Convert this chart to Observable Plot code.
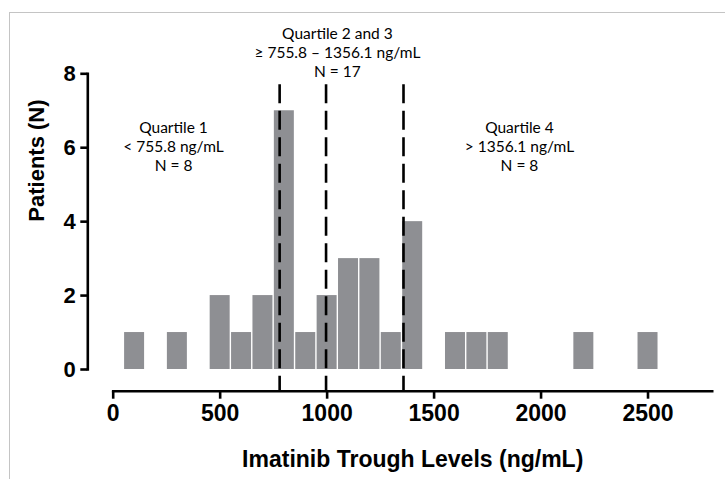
<!DOCTYPE html>
<html><head><meta charset="utf-8">
<script src="https://cdn.jsdelivr.net/npm/d3@7"></script>
<script src="https://cdn.jsdelivr.net/npm/@observablehq/plot@0.6"></script>
<style>
body{margin:0;background:#fff;}
#wrap{position:relative;width:725px;height:479px;overflow:hidden;background:#fff;}
#border{position:absolute;left:9px;top:12px;width:800px;height:600px;border-left:1.5px solid #c4c4c4;border-top:1.5px solid #c4c4c4;}
#chart{position:absolute;left:0;top:0;}
</style></head><body>
<div id="wrap"><div id="border"></div><div id="chart"></div></div>
<script>
// Histogram bins (ng/mL) and patient counts
const binStart = [50,250,450,550,650,750,850,950,1050,1150,1250,1350,1550,1650,1750,2150,2450];
const binEnd   = [150,350,550,650,750,850,950,1050,1150,1250,1350,1450,1650,1750,1850,2250,2550];
const counts   = [1,1,2,1,2,7,1,2,3,3,1,4,1,1,1,1,1];
// Dashed quartile / median lines (ng/mL, as drawn)
const cutoffs = [778, 995, 1357];
const xTicks = [0,500,1000,1500,2000,2500];
const yTicks = [0,2,4,6,8];
const xDomain = [0, 2800];
const yDomain = [0, 8];
const xTitle = "Imatinib Trough Levels (ng/mL)";
const yTitle = "Patients (N)";
const groupLabels = ["Quartile 1\n< 755.8 ng/mL\nN = 8", "Quartile 2 and 3\n≥ 755.8 – 1356.1 ng/mL\nN = 17", "Quartile 4\n> 1356.1 ng/mL\nN = 8"];
const groupX = [282, 1048, 1899];
const groupY = [6.04, 8.59, 6.04];

const bars = binStart.map((s,i)=>({x1:s, x2:binEnd[i], count:counts[i]}));
const ann = groupLabels.map((t,i)=>({text:t, x:groupX[i], y:groupY[i]}));

const sw = 2.6;
const plot = Plot.plot({
  width:725, height:479,
  marginLeft:112.7, marginRight:13.3, marginTop:73.3, marginBottom:110,
  x:{domain:xDomain}, y:{domain:yDomain},
  style:{background:"transparent", fontFamily:"'Liberation Sans', Arial, sans-serif", color:"#000"},
  marks:[
    Plot.rectY(bars, {x1:"x1", x2:"x2", y1:0, y2:"count", fill:"#8e8f93", insetLeft:0.7, insetRight:0.7}),
    Plot.ruleX(cutoffs, {stroke:"#000", strokeWidth:sw, strokeDasharray:"19,7.5", insetTop:11, insetBottom:-21.7}),
    Plot.frame({anchor:"left", dx:-25.4, strokeWidth:sw}),
    Plot.axisY(yTicks, {anchor:"left", dx:-25.4, tickSize:7, tickPadding:5, tickFormat:"d", fontSize:22, fontWeight:"bold", strokeWidth:sw, label:null}),
    Plot.frame({anchor:"bottom", dy:21.7, strokeWidth:sw}),
    Plot.axisX(xTicks, {anchor:"bottom", dy:21.7, tickSize:8, tickPadding:5, tickFormat:"d", fontSize:23, fontWeight:"bold", strokeWidth:sw, label:null}),
    Plot.text([xTitle], {frameAnchor:"bottom", dy:90, lineAnchor:"middle", fontSize:23, fontWeight:"bold"}),
    Plot.text([yTitle], {frameAnchor:"left", dx:-76.5, rotate:-90, lineAnchor:"middle", fontSize:22, fontWeight:"bold"}),
    Plot.text(ann, {x:"x", y:"y", text:"text", fontFamily:"Lato", fontSize:15.5, lineHeight:1.22, lineAnchor:"middle", fill:"#000"})
  ]
});
document.getElementById("chart").appendChild(plot);
</script>
</body></html>
